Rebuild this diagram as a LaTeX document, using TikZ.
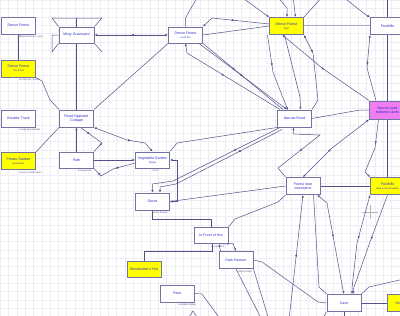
\documentclass[tikz,border=0pt]{standalone}
\usepackage{fontspec}
\setmainfont{Liberation Sans}
\usetikzlibrary{positioning, arrows.meta, decorations.markings, backgrounds}
\definecolor{RoomEdge}{HTML}{7474A2}
\definecolor{RoomText}{HTML}{2A2AD0}
\definecolor{LinkLine}{HTML}{52528A}
\definecolor{RoadGrey}{HTML}{A9A9BE}
\definecolor{GridGrey}{HTML}{EDEDF3}
\definecolor{StartYellow}{HTML}{FFFF00}
\definecolor{RegionPink}{HTML}{F07EF0}
\newcommand{\roomsub}[1]{\\[-0.6pt]{\fontsize{2.4}{2.8}\selectfont #1}}

\begin{document}
\begin{tikzpicture}[
    x=1pt, y=-1pt,
    font=\fontsize{3.6}{4.2}\selectfont,
    room/.style={rectangle, draw=RoomEdge, fill=white, line width=1pt, minimum width=34pt, minimum height=17pt, inner sep=0.5pt, align=center, text=RoomText},
    yroom/.style={room, fill=StartYellow},
    proom/.style={room, fill=RegionPink},
    objs/.style={inner sep=0pt, text=LinkLine, font=\fontsize{2.4}{2.8}\selectfont},
    link/.style={draw=LinkLine, line width=0.5pt},
    road/.style={draw=RoadGrey, line width=0.45pt, double=white, double distance=0.7pt},
    mid/.style={postaction={decorate, decoration={markings, mark=at position #1 with {\arrow{Latex[length=2.6pt, width=2.3pt]}}}}},
    mid/.default=0.5,
    rmid/.style={postaction={decorate, decoration={markings, mark=at position #1 with {\arrowreversed{Latex[length=2.6pt, width=2.3pt]}}}}},
    rmid/.default=0.5,
    tip/.style={-{Latex[length=2.6pt, width=2.3pt]}},
    tipback/.style={{Latex[length=2.6pt, width=2.3pt]}-},
    tipboth/.style={{Latex[length=2.6pt, width=2.3pt]}-{Latex[length=2.6pt, width=2.3pt]}}
  ]
    \useasboundingbox (0,0) rectangle (400,316);

    % Rooms
    \node (denseA) [room] at (18.5,25.5) {Dense Forest};
    \node (denseB) [yroom] at (18.5,68.5) {Dense Forest\roomsub{Two Trees}};
    \node (misty) [room, minimum width=35pt, minimum height=16pt] at (76.5,35) {Misty Graveyard};
    \node (denseC) [room, minimum height=16pt] at (185.5,35) {Dense Forest\roomsub{Level Ten}};
    \node (denseD) [yroom] at (286.5,26) {Dense Forest\roomsub{Start}};
    \node (hillsA) [room] at (387.5,26) {Foothills};
    \node (lands) [proom, minimum width=36pt, minimum height=18pt] at (387.5,110) {Narrow road\\between lands};
    \node (narrow) [room] at (294.5,118.5) {Narrow Road};
    \node (cottage) [room] at (76.5,118.5) {Road Opposite\\Cottage};
    \node (boulder) [room] at (18.5,118.5) {Boulder Track};
    \node (flower) [yroom] at (18.5,161) {Flower Garden\roomsub{secret door}};
    \node (path) [room, minimum height=16pt] at (76.5,160) {Path};
    \node (veg) [room, minimum height=16pt] at (152.5,160) {Vegetable Garden\roomsub{Weeds}};
    \node (gorse) [room] at (152.5,201.5) {Gorse};
    \node (forest) [room] at (303,186) {Forest near\\mountains};
    \node (hillsB) [yroom] at (387.5,186) {Foothills\roomsub{Next to the Mountain}};
    \node (front) [room, minimum height=16pt] at (211,235.5) {In Front of Hut};
    \node (hut) [yroom, minimum height=16pt] at (144,269) {Woodcutter's Hut};
    \node (pasture) [room] at (236,260) {Dark Pasture};
    \node (river) [room] at (177.5,293.5) {River};
    \node (cave) [room] at (344,303) {Cave};
    \node (camp) [yroom] at (404,303) {Settlement};

    % Objects
    \node (objA) [objs, below right=1.5pt and 0.5pt of denseA.south] {fallen branches, moss};
    \node (objB) [objs, below right=1.5pt and 0.5pt of denseB.south] {an old rope, a lamp};
    \node (objBoulder) [objs, below right=1.5pt and 0.5pt of boulder.south] {a huge grey boulder};
    \node (objFlower) [objs, below right=1.5pt and 0.5pt of flower.south] {roses, a small trowel};
    \node (objPath) [objs, below right=1.5pt and 1.5pt of path.south] {loose gravel};
    \node (objVeg) [objs, below right=1.5pt and 0pt of veg.south] {a hoe};
    \node (objGorse) [objs, below right=1.5pt and 0pt of gorse.south] {yellow flowers};
    \node (objFront) [objs, below right=1.5pt and 0pt of front.south] {an axe block};
    \node (objPasture) [objs, below right=1.5pt and 1pt of pasture.south] {a black sheep};
    \node (objRiver) [objs, below right=1.5pt and 0.5pt of river.south] {a wooden bridge};

    % Free ends
    \coordinate (topC) at (198,-4);
    \coordinate (topD1) at (240,-4);
    \coordinate (topD2) at (277,-4);
    \coordinate (topD3) at (293,-4);
    \coordinate (topD4) at (323,-4);
    \coordinate (topH2) at (342,-4);
    \coordinate (topH) at (387.5,-4);
    \coordinate (botF) at (289,320);
    \coordinate (botCave) at (344,320);
    \coordinate (botCave2) at (322,320);
    \coordinate (rightCave) at (404,279);
    \coordinate (botP1) at (262,320);
    \coordinate (botP2) at (269,320);
    \coordinate (botR) at (221,320);
    \coordinate (botR1) at (187,320);
    \coordinate (botR2) at (199,320);

    \begin{scope}[on background layer]
      \fill[white] (0,0) rectangle (400,316);
      \draw[GridGrey, line width=0.3pt, step=8.33pt] (0,316) grid (400,0);
      \draw[GridGrey!50!gray, line width=0.4pt] (362,212) -- (378,212) (370,205) -- (370,219);

      % Links
      \draw[link] (denseA) -- (denseB);
      \draw[link] (denseB.south east) -- (42,81) -- (50,100) -- (cottage.north west);
      \draw[link] (misty.north west) -- (52,18) -- (102,18) -- (misty.north east);
      \draw[link] (misty.north) -- (76.5,18);
      \draw[link] (misty.south west) -- (52,52) -- (52,35) -- (misty.west);
      \draw[link] (misty.south east) -- (102,52);
      \draw[link, tipboth, rmid] (misty) -- (denseC);
      \draw[link] (misty) -- (cottage);
      \draw[link] (denseC.south west) -- (cottage.north east);
      \draw[link] (denseC.north) -- (185.5,18) -- (topC);
      \draw[link] (denseC.east) -- (denseD.west);
      \draw[link, tip, rmid] ([yshift=2pt]denseD.west) -- (212,18) -- (denseC.north east);
      \draw[link, tipback, mid=0.45] (denseC.south) -- (187,53) -- ([xshift=3pt]narrow.north west);
      \draw[link, tipback, mid=0.5, tip] ([xshift=-4pt]denseC.south east) -- ([xshift=10pt]narrow.north west);
      \draw[link, mid=0.4] (denseC.south east) -- ([xshift=6pt]narrow.north west);
      \draw[link, tipback, mid=0.4, tip] ([xshift=-19pt]denseD.south) -- (273,72) -- (283,98) -- (288,110);
      \draw[link, tip] ([xshift=-2pt]denseD.south) -- (300,97) -- ([xshift=6pt]narrow.north);
      \draw[link, tipback, mid] ([xshift=-4pt]denseD.south) -- (322,68) -- (lands.north west);
      \draw[link, tipback, mid=0.25] (denseD.south east) -- (313,53) -- (318,100) -- (narrow.north east);
      \draw[link, tipback, mid=0.45] (hillsA.south west) -- (367,68) -- ([xshift=7pt]lands.north west);
      \draw[link] (topH) -- (hillsA);
      \draw[link] (hillsA) -- (lands);
      \draw[road] (denseD) -- (hillsA);
      \draw[link, tip] (topD1) -- (262,12) -- (denseD.north west);
      \draw[link, tip] (topD2) -- (287,8) -- ([xshift=0.5pt]denseD.north);
      \draw[link, tip] (topD3) -- ([xshift=9pt]denseD.north);
      \draw[link] (topD4) -- (denseD.north east);
      \draw[link, tip] (topH2) -- (366,15) -- (hillsA.north west);
      \draw[link] (narrow.east) -- (360,110) -- (lands.west);
      \draw[road] (boulder) -- (cottage);
      \draw[road] (cottage) -- (narrow);
      \draw[link] (cottage.south west) -- (flower.north east);
      \draw[link, tipback] (cottage.south) -- (path.north);
      \draw[link, mid=0.3, mid=0.8] ([xshift=4pt]cottage.south) -- (102,143) -- (path.north east);
      \draw[link, tipboth, mid=0.6] (cottage.south east) -- (127,140) -- (145,143) -- (veg.north);
      \draw[link, tip] (path) -- (veg);
      \draw[link, mid=0.2, mid=0.65] (path.south east) -- (101,176) -- (113,169) -- ([yshift=-3pt]veg.west);
      \draw[link] (veg.north east) -- (177,143) -- (narrow.south west);
      \draw[link, mid=0.35, tip] ([xshift=3pt]narrow.south west) -- (173,181) -- (152.5,184) -- (gorse.north);
      \draw[link, mid=0.35, tip] ([xshift=5pt, yshift=-2pt]narrow.south west) -- (176,184) -- (160,187) -- ([xshift=7.5pt]gorse.north);
      \draw[link, tipboth] (veg.east) -- (177,160) -- (177,201.5) -- (gorse.east);
      \draw[link] (gorse.east) -- (forest.west);
      \draw[link, tipback, mid=0.6] ([xshift=-1pt]narrow.south) -- (293.5,134) -- (320,135) -- (278,168) -- (forest.north west);
      \draw[link, tipboth, mid=0.45] (forest.north) -- (332,148) -- (lands.south west);
      \draw[link] (lands) -- (hillsB);
      \draw[link, mid=0.4, tip] ([xshift=-9pt]lands.south) -- (375,148) -- (365,172) -- (hillsB.north west);
      \draw[link] (forest) -- (hillsB);
      \draw[link, tipback, mid] (forest.south) -- (botF);
      \draw[link, tipboth, mid=0.45] ([xshift=-3pt]forest.south east) -- (327,203) -- (343,290) -- (cave.north);
      \draw[link] ([xshift=-7pt]forest.south east) -- (319,287) -- (cave.north west);
      \draw[link, tipboth, mid=0.45] (hillsB.south west) -- (357,243) -- (352,288) -- ([xshift=8pt]cave.north);
      \draw[link, mid=0.45, tip] (hillsB.south) -- (370,242) -- (353,290) -- ([xshift=10pt]cave.north);
      \draw[link] (cave) -- (camp);
      \draw[link] (cave.north east) -- (369,287) -- (rightCave);
      \draw[link] (pasture.east) -- (262,262) -- (318,302) -- (cave.west);
      \draw[link, tip] (cave.south) -- (botCave);
      \draw[link] (cave.south west) -- (botCave2);
      \draw[link] (front.north east) -- (235,219) -- (278,202) -- (forest.south west);
      \draw[link] (gorse.south) -- (152.5,219) -- (211,219) -- (front.north);
      \draw[link] ([xshift=1pt]front.south) -- (212,251) -- (144,251) -- (hut.north);
      \draw[link, tip] ([xshift=2pt]pasture.north west) -- ([xshift=8pt]front.south);
      \draw[link, mid, tip] ([xshift=8pt]front.south) -- (233,243.5) -- (pasture.north);
      \draw[link] (pasture.south) -- (botP1);
      \draw[link] (pasture.south east) -- (botP2);
      \draw[link] (river.east) -- (202,294) -- (botR);
      \draw[link] (botR1) -- (193,311) -- (botR2);
    \end{scope}
\end{tikzpicture}
\end{document}
